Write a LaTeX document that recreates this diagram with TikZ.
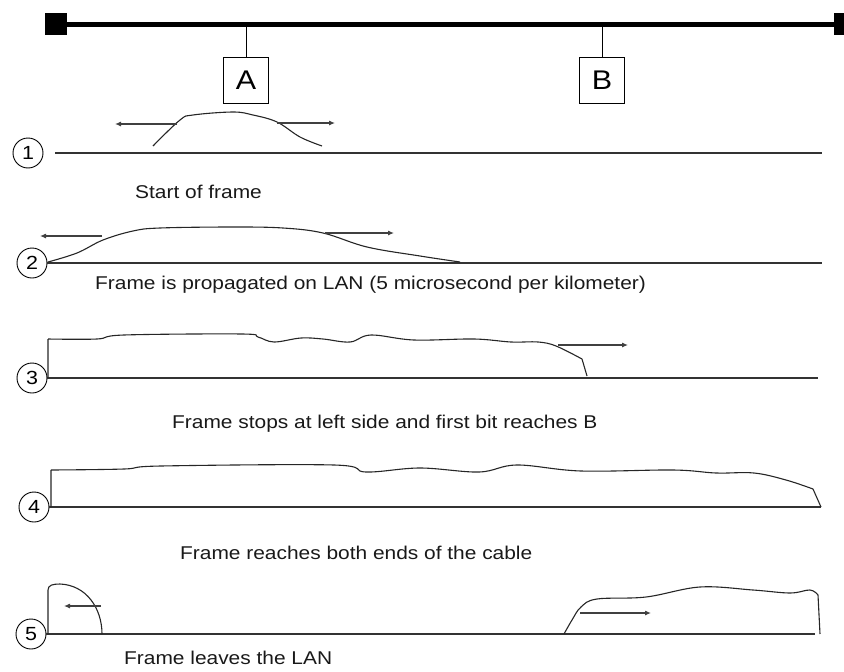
\documentclass[tikz,border=0pt]{standalone}
\usepackage{fontspec}
\setmainfont[FakeStretch=1.13]{Liberation Sans}
\usepackage{tikz}
\usetikzlibrary{positioning, arrows.meta}

\begin{document}
\begin{tikzpicture}[
  x=1pt, y=-1pt,
  font=\fontsize{18.5}{22}\selectfont,
  term/.style={fill=black, minimum width=22pt, minimum height=22pt, inner sep=0pt},
  station/.style={draw, line width=1.1pt, minimum width=45pt, minimum height=46pt,
    inner sep=0pt, font=\fontsize{27}{30}\selectfont},
  stepnum/.style={draw, circle, line width=0.9pt, minimum size=30pt, inner sep=0pt,
    font=\fontsize{19}{22}\selectfont},
  cable/.style={line width=1.3pt, black!80},
  signal/.style={line width=1.1pt, black!85, line join=round},
  push/.style={-{Latex[length=6pt,width=5pt]}, line width=1.1pt, black!75},
  caption/.style={anchor=west, inner sep=0pt, text=black!90},
]
\useasboundingbox (0,0) rectangle (844,672);

% coaxial bus with terminators
\node[term] (termL) at (56,24) {};
\node[term] (termR) at (845,24) {};
\draw[line width=5pt] (termL) -- (termR);

\coordinate (tapA) at (246,24);
\coordinate (tapB) at (602,24);
\node[station, below=33pt of tapA] (staA) {A};
\node[station, below=33pt of tapB] (staB) {B};
\draw[line width=0.9pt] (tapA) -- (staA);
\draw[line width=0.9pt] (tapB) -- (staB);

% 1: start of frame
\node[stepnum] (s1) at (28,153) {1};
\coordinate (c1a) at (55,153);
\coordinate (c1b) at (822,153);
\draw[cable] (c1a) -- (c1b);
\draw[signal] plot[smooth, tension=0.6] coordinates {(153,146) (180,120) (193,115)
  (233,112) (253,115) (277,122) (300,137) (322,146)};
\draw[push] (177,124) -- (115,124);
\draw[push] (277,123) -- (335,123);
\node[caption] (t1) at (135,192) {Start of frame};

% 2: propagation
\node[stepnum] (s2) at (32,263) {2};
\coordinate (c2b) at (822,263);
\draw[cable] (s2.east) -- (c2b);
\draw[signal] plot[smooth, tension=0.6] coordinates {(48,262) (77,253) (103,240)
  (133,231) (160,228) (233,227) (283,228) (323,233) (367,247) (420,256) (460,262)};
\draw[push] (102,236) -- (40,236);
\draw[push] (325,233) -- (394,233);
\node[caption] (t2) at (95,285) {Frame is propagated on LAN (5 microsecond per kilometer)};

% 3: first bit reaches B
\node[stepnum] (s3) at (32,378) {3};
\coordinate (c3b) at (818,378);
\draw[cable] (s3.east) -- (c3b);
\draw[signal] (48,378) -- (48,339) plot[smooth, tension=0.6] coordinates {(48,339)
  (97,339) (124,335) (242,334) (258,337) (274,342) (301,338) (323,339) (350,342)
  (371,335) (414,340) (474,339) (511,342) (538,342) (556,346) (582,359)}
  -- (587,376);
\draw[push] (558,345) -- (628,345);
\node[caption] (t3) at (172,424) {Frame stops at left side and first bit reaches B};

% 4: both ends
\node[stepnum] (s4) at (34,507) {4};
\coordinate (c4b) at (821,507);
\draw[cable] (s4.east) -- (c4b);
\draw[signal] (51,507) -- (51,470) plot[smooth, tension=0.6] coordinates {(51,470)
  (124,469) (161,466) (334,465) (366,472) (420,468) (479,472) (517,465) (581,471)
  (673,470) (716,473) (754,473) (786,480) (813,489)} -- (821,507);
\node[caption] (t4) at (180,553) {Frame reaches both ends of the cable};

% 5: frame leaves
\node[stepnum] (s5) at (31,634) {5};
\coordinate (c5b) at (815,634);
\draw[cable] (s5.east) -- (c5b);
\draw[signal] (48,634) -- (48,590) .. controls (48,585) and (53,584) .. (60,584)
  .. controls (86,585) and (102,608) .. (102,634);
\draw[push] (101,606) -- (64,606);
\draw[signal] (564,634) plot[smooth, tension=0.6] coordinates {(564,634) (572,620)
  (581,607) (597,599) (646,597) (700,587) (753,590) (790,593) (810,590) (818,595)}
  -- (820,634);
\draw[push] (580,613) -- (651,613);
\node[caption] (t5) at (124,658) {Frame leaves the LAN};
\end{tikzpicture}
\end{document}
